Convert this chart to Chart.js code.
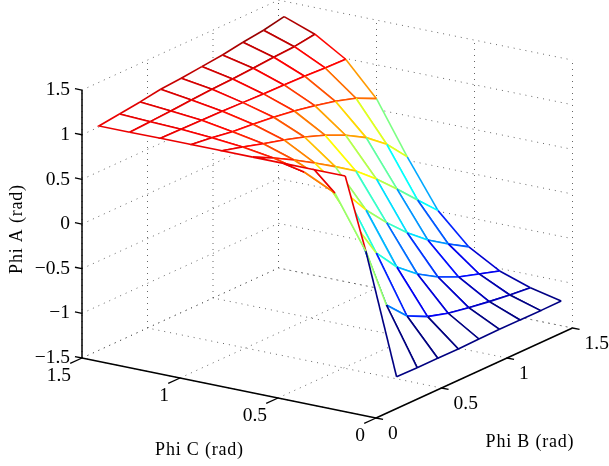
<!DOCTYPE html>
<html>
<head>
<meta charset="utf-8">
<script src="https://cdn.jsdelivr.net/npm/chart.js@4"></script>
<style>
  html, body { margin: 0; padding: 0; background: #fff; }
  canvas { display: block; }
</style>
</head>
<body>
<canvas id="chart" width="609" height="466"></canvas>
<script>
// grid is in steps of pi/20 rad
const gridStep = Math.PI / 20;
const phiBIndex = [0, 1, 2, 3, 4, 5, 6, 7, 8, 9];

// Phi A (rad), one row per Phi C step, columns are Phi B steps
const phiA_C0 = [null, -1.143, -1.148, -1.148, -1.149, -1.143, -1.14, -1.141, -1.142, -1.139];
const phiA_C1 = [1.14, 0.194, -0.516, -0.745, -0.857, -0.925, -0.968, -1.006, -1.037, -1.061];
const phiA_C2 = [1.14, 0.773, 0.298, -0.109, -0.372, -0.556, -0.695, -0.8, -0.872, -0.944];
const phiA_C3 = [1.14, 0.938, 0.743, 0.492, 0.196, -0.051, -0.269, -0.456, -0.606, -0.745];
const phiA_C4 = [1.14, 1.025, 0.897, 0.758, 0.611, 0.457, 0.262, 0.045, -0.184, -0.409];
const phiA_C5 = [1.14, 1.078, 1.009, 0.945, 0.873, 0.787, 0.681, 0.549, 0.369, 0.122];
const phiA_C6 = [1.14, 1.111, 1.073, 1.05, 1.023, 0.988, 0.942, 0.886, 0.814, 0.704];
const phiA_C7 = [1.14, 1.135, 1.13, 1.126, 1.117, 1.109, 1.104, 1.096, 1.083, 1.075];
const phiA_C8 = [1.137, 1.15, 1.164, 1.182, 1.196, 1.206, 1.22, 1.238, 1.251, 1.285];
const phiA_C9 = [1.137, 1.166, 1.195, 1.231, 1.249, 1.274, 1.299, 1.336, 1.365, 1.412];
const phiA = [phiA_C0, phiA_C1, phiA_C2, phiA_C3, phiA_C4, phiA_C5, phiA_C6, phiA_C7, phiA_C8, phiA_C9];

const phiBTicks = [0, 0.5, 1, 1.5];
const phiCTicks = [0, 0.5, 1, 1.5];
const phiATicks = [-1.5, -1, -0.5, 0, 0.5, 1, 1.5];
const colorMin = -1.15;
const colorMax = 1.41;

// view of the 3d box, gives x/y on the flat chart scales
function project(b, c, a) {
  return {
    x: 376 + 131 * b - 196 * c,
    y: 418 - 60 * b - 40 * c - 89.3 * (a + 1.5)
  };
}

function jet(v) {
  const t = Math.max(0, Math.min(1, (v - colorMin) / (colorMax - colorMin)));
  const ch = d => Math.round(255 * Math.max(0, Math.min(1, 1.5 - Math.abs(4 * t - d))));
  return `rgb(${ch(3)},${ch(2)},${ch(1)})`;
}

const node = (i, j) => project(i * gridStep, j * gridStep, phiA[j][i]);
const nodeColor = (i, j) => jet(phiA[j][i]);

const datasets = [];

// first dataset is painted last, so go from the front corner to the back
for (let i = 0; i < phiBIndex.length - 1; i++) {
  for (let j = 0; j < phiA.length - 1; j++) {
    if (phiA[j][i] === null) continue;
    const pts = [node(i, j), node(i + 1, j), node(i + 1, j + 1), node(i, j + 1), node(i, j)];
    const edges = [nodeColor(i, j), nodeColor(i + 1, j), nodeColor(i, j + 1), nodeColor(i, j)];
    datasets.push({
      data: pts,
      showLine: true,
      pointRadius: 0,
      borderWidth: 1.6,
      borderColor: edges[0],
      fill: false,
      segment: { borderColor: ctx => edges[ctx.p0DataIndex] }
    });
    datasets.push({
      data: pts,
      showLine: true,
      pointRadius: 0,
      borderWidth: 0,
      borderColor: 'rgba(255,255,255,0)',
      backgroundColor: '#fff',
      fill: 'shape'
    });
  }
}

function addLine(a, b, width, dash) {
  datasets.push({
    data: [a, b],
    showLine: true,
    pointRadius: 0,
    borderWidth: width,
    borderColor: dash ? '#555' : '#000',
    borderDash: dash || [],
    fill: false
  });
}

// solid axes and tick marks
addLine(project(0, 1.5, -1.5), project(0, 1.5, 1.5), 1.5);
addLine(project(0, 1.5, -1.5), project(0, 0, -1.5), 1.5);
addLine(project(0, 0, -1.5), project(1.5, 0, -1.5), 1.5);
phiATicks.forEach(a => addLine(project(0, 1.5, a), project(0, 1.536, a), 1.3));
phiCTicks.forEach(c => addLine(project(0, c, -1.5), project(-0.09, c, -1.5), 1.3));
phiBTicks.forEach(b => addLine(project(b, 0, -1.5), project(b, -0.036, -1.5), 1.3));

// dotted grid on floor and the two back walls
const dots = [1, 5];
phiBTicks.forEach(b => {
  addLine(project(b, 0, -1.5), project(b, 1.5, -1.5), 0.9, dots);
  addLine(project(b, 1.5, -1.5), project(b, 1.5, 1.5), 0.9, dots);
});
phiCTicks.forEach(c => {
  addLine(project(0, c, -1.5), project(1.5, c, -1.5), 0.9, dots);
  addLine(project(1.5, c, -1.5), project(1.5, c, 1.5), 0.9, dots);
});
phiATicks.forEach(a => {
  addLine(project(0, 1.5, a), project(1.5, 1.5, a), 0.9, dots);
  addLine(project(1.5, 1.5, a), project(1.5, 0, a), 0.9, dots);
});

const tickText = v => (v < 0 ? '\u2212' : '') + Math.abs(v);

const labels3d = {
  id: 'labels3d',
  afterDraw(chart) {
    const { ctx, scales } = chart;
    const put = (text, p, dx, dy, align) => {
      ctx.textAlign = align;
      ctx.fillText(text, scales.x.getPixelForValue(p.x) + dx, scales.y.getPixelForValue(p.y) + dy);
    };
    ctx.save();
    ctx.fillStyle = '#000';
    ctx.textBaseline = 'middle';
    ctx.font = '19.5px "Liberation Serif"';
    phiATicks.forEach(a => put(tickText(a), project(0, 1.5, a), -12, 0, 'right'));
    phiCTicks.forEach(c => put(tickText(c), project(0, c, -1.5), -11, 18, 'right'));
    phiBTicks.forEach(b => put(tickText(b), project(b, 0, -1.5), 12, 16, 'left'));
    ctx.font = '18px "Liberation Serif"';
    ctx.letterSpacing = '0.8px';
    ctx.textAlign = 'center';
    ctx.fillText('Phi C (rad)', 199.5, 450);
    ctx.fillText('Phi B (rad)', 530, 442);
    ctx.translate(17, 229);
    ctx.rotate(-Math.PI / 2);
    ctx.fillText('Phi A (rad)', 0, 0);
    ctx.restore();
  }
};

new Chart('chart', {
  type: 'scatter',
  data: { datasets },
  plugins: [labels3d],
  options: {
    responsive: false,
    animation: false,
    layout: { padding: 0 },
    plugins: { legend: { display: false }, tooltip: { enabled: false } },
    scales: {
      x: { type: 'linear', min: 0, max: 609, display: false },
      y: { type: 'linear', min: 0, max: 466, reverse: true, display: false }
    }
  }
});
</script>
</body>
</html>
